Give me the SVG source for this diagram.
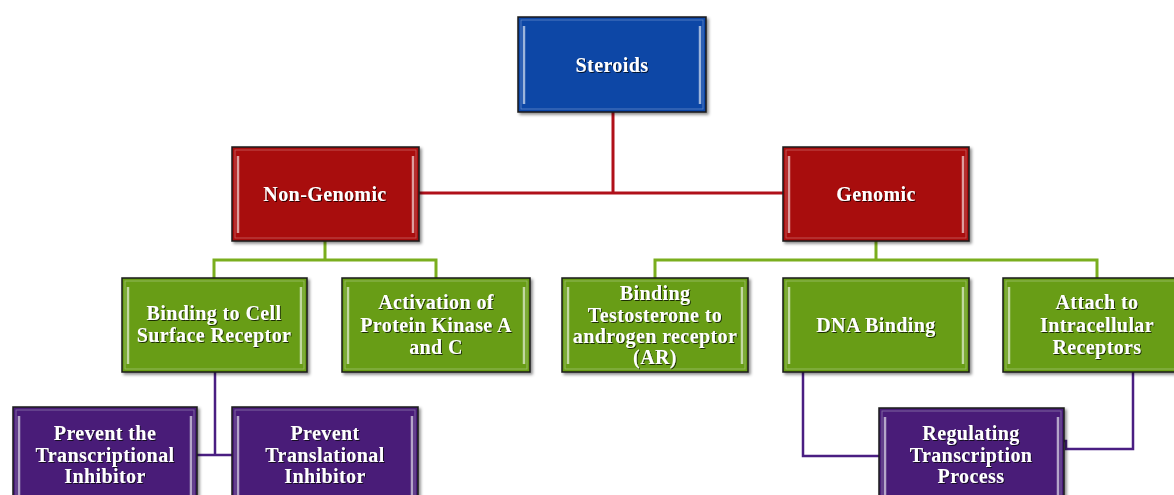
<svg xmlns="http://www.w3.org/2000/svg" width="1174" height="495" viewBox="0 0 1174 495">
<defs>
<style>
.box{stroke:#1a1a1a;stroke-width:1.5}
.blue{fill:#0B46A6}
.red{fill:#A80B0B}
.green{fill:#679D15}
.purple{fill:#481F78}
.hl{fill:none;stroke:#ffffff;stroke-opacity:0.6;stroke-width:2.5}
.edge{fill:none;stroke:#ffffff;stroke-opacity:0.3;stroke-width:1}
.t{font-family:"Liberation Serif","Times New Roman",serif;font-weight:bold;font-size:20px;letter-spacing:0.4px;fill:#ffffff;text-anchor:middle}
.c-red{fill:none;stroke:#B0101A;stroke-width:3}
.c-green{fill:none;stroke:#7AAE1E;stroke-width:3}
.c-purple{fill:none;stroke:#4A1E82;stroke-width:2.5}
</style>
<filter id="sh" x="-10%" y="-10%" width="125%" height="125%">
<feDropShadow dx="2" dy="2" stdDeviation="1.5" flood-color="#000" flood-opacity="0.45"/>
</filter>
<filter id="ts" x="-10%" y="-20%" width="120%" height="150%">
<feDropShadow dx="1" dy="1" stdDeviation="0.6" flood-color="#000" flood-opacity="0.7"/>
</filter>
</defs>
<g id="connectors">
<path class="c-red" d="M613 112 V193 M419 193 H783"/>
<path class="c-green" d="M325 241 V260 M214 278 V260 H436 V278"/>
<path class="c-green" d="M876 241 V260 M655 278 V260 H1097 V278"/>
<path class="c-purple" d="M215 372 V455 M197 455 H232"/>
<path class="c-purple" d="M803 372 V456 H879"/>
<path class="c-purple" d="M1133 372 V449 H1066 V441 H1064"/>
</g>
<g id="steroids" filter="url(#sh)">
<rect class="box blue" x="518" y="17" width="188" height="95"/>
<rect class="edge" x="521" y="20" width="182" height="89"/>
<path class="hl" d="M524 26 V104 M700 26 V104"/>
<text class="t" x="612" y="72" filter="url(#ts)">Steroids</text>
</g>
<g id="non-genomic" filter="url(#sh)">
<rect class="box red" x="232" y="147" width="187" height="94"/>
<rect class="edge" x="235" y="150" width="181" height="88"/>
<path class="hl" d="M238 156 V233 M413 156 V233"/>
<text class="t" x="325" y="201" filter="url(#ts)">Non-Genomic</text>
</g>
<g id="genomic" filter="url(#sh)">
<rect class="box red" x="783" y="147" width="186" height="94"/>
<rect class="edge" x="786" y="150" width="180" height="88"/>
<path class="hl" d="M789 156 V233 M963 156 V233"/>
<text class="t" x="876" y="201" filter="url(#ts)">Genomic</text>
</g>
<g id="binding-cell" filter="url(#sh)">
<rect class="box green" x="122" y="278" width="185" height="94"/>
<rect class="edge" x="125" y="281" width="179" height="88"/>
<path class="hl" d="M128 287 V364 M301 287 V364"/>
<text class="t" filter="url(#ts)"><tspan x="214" y="320">Binding to Cell</tspan><tspan x="214" y="342">Surface Receptor</tspan></text>
</g>
<g id="activation" filter="url(#sh)">
<rect class="box green" x="342" y="278" width="188" height="94"/>
<rect class="edge" x="345" y="281" width="182" height="88"/>
<path class="hl" d="M348 287 V364 M524 287 V364"/>
<text class="t" filter="url(#ts)"><tspan x="436" y="309">Activation of</tspan><tspan x="436" y="332">Protein Kinase A</tspan><tspan x="436" y="354">and C</tspan></text>
</g>
<g id="binding-testosterone" filter="url(#sh)">
<rect class="box green" x="562" y="278" width="186" height="94"/>
<rect class="edge" x="565" y="281" width="180" height="88"/>
<path class="hl" d="M568 287 V364 M742 287 V364"/>
<text class="t" filter="url(#ts)"><tspan x="655" y="300">Binding</tspan><tspan x="655" y="322">Testosterone to</tspan><tspan x="655" y="343">androgen receptor</tspan><tspan x="655" y="364">(AR)</tspan></text>
</g>
<g id="dna-binding" filter="url(#sh)">
<rect class="box green" x="783" y="278" width="186" height="94"/>
<rect class="edge" x="786" y="281" width="180" height="88"/>
<path class="hl" d="M789 287 V364 M963 287 V364"/>
<text class="t" x="876" y="332" filter="url(#ts)">DNA Binding</text>
</g>
<g id="attach" filter="url(#sh)">
<rect class="box green" x="1003" y="278" width="186" height="94"/>
<rect class="edge" x="1006" y="281" width="180" height="88"/>
<path class="hl" d="M1009 287 V364"/>
<text class="t" filter="url(#ts)"><tspan x="1097" y="309">Attach to</tspan><tspan x="1097" y="332">Intracellular</tspan><tspan x="1097" y="354">Receptors</tspan></text>
</g>
<g id="prevent-transcriptional" filter="url(#sh)">
<rect class="box purple" x="13" y="407" width="184" height="94"/>
<rect class="edge" x="16" y="410" width="178" height="88"/>
<path class="hl" d="M19 416 V495 M191 416 V495"/>
<text class="t" filter="url(#ts)"><tspan x="105" y="440">Prevent the</tspan><tspan x="105" y="462">Transcriptional</tspan><tspan x="105" y="483">Inhibitor</tspan></text>
</g>
<g id="prevent-translational" filter="url(#sh)">
<rect class="box purple" x="232" y="407" width="186" height="94"/>
<rect class="edge" x="235" y="410" width="180" height="88"/>
<path class="hl" d="M238 416 V495 M412 416 V495"/>
<text class="t" filter="url(#ts)"><tspan x="325" y="440">Prevent</tspan><tspan x="325" y="462">Translational</tspan><tspan x="325" y="483">Inhibitor</tspan></text>
</g>
<g id="regulating" filter="url(#sh)">
<rect class="box purple" x="879" y="408" width="185" height="94"/>
<rect class="edge" x="882" y="411" width="179" height="88"/>
<path class="hl" d="M885 417 V495 M1058 417 V495"/>
<text class="t" filter="url(#ts)"><tspan x="971" y="440">Regulating</tspan><tspan x="971" y="462">Transcription</tspan><tspan x="971" y="483">Process</tspan></text>
</g>
</svg>
